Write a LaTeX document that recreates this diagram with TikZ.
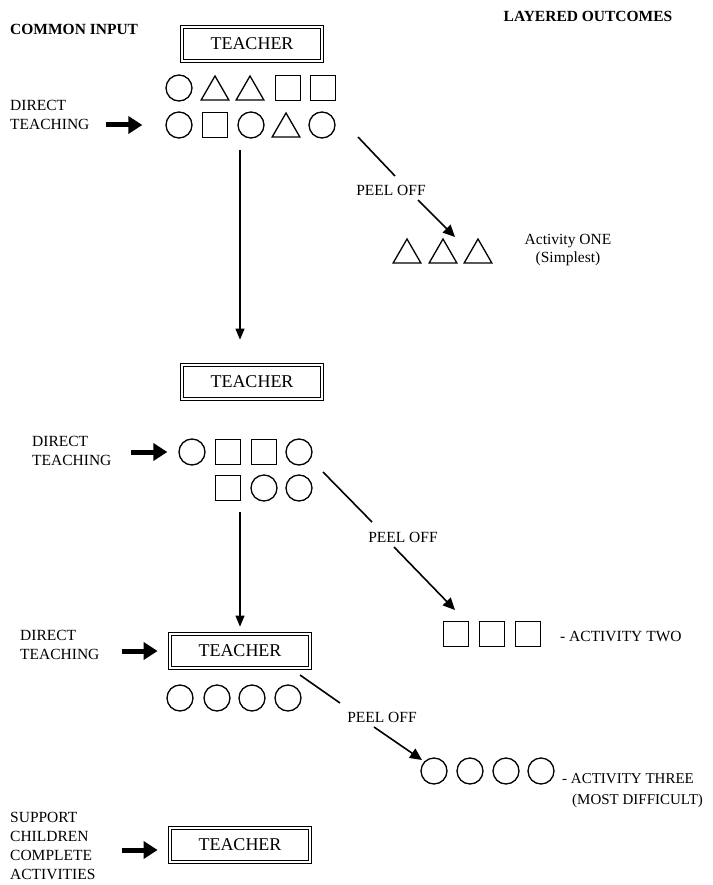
\documentclass[tikz,border=0pt]{standalone}
\usepackage{fontspec}
\setmainfont{Liberation Serif}
\usetikzlibrary{arrows.meta,positioning,shapes.geometric,calc}
\tikzset{
    teacher/.style={
        draw,
        double,
        double distance=2pt,
        line width=0.8pt,
        minimum width=140pt,
        minimum height=34pt,
        inner sep=0pt,
        font=\fontsize{18}{20}\selectfont
    },
    shp/.style={draw, line width=1.3pt, inner sep=0pt},
    circ/.style={shp, circle, minimum size=26pt},
    sq/.style={shp, rectangle, minimum size=25pt},
    tri/.style={shp, regular polygon, regular polygon sides=3, minimum size=32pt, yshift=-4pt},
    lbl/.style={align=left, inner sep=0pt, font=\fontsize{15.5}{18.5}\selectfont},
    heading/.style={inner sep=0pt, font=\bfseries\fontsize{15.5}{18}\selectfont},
    fat/.style={line width=5pt, -{Triangle[length=14pt,width=17pt]}},
    godown/.style={line width=1.2pt, -{Triangle[length=11pt,width=9pt]}},
    peel/.style={line width=1.6pt},
    peelarrow/.style={peel, -{Triangle[length=12pt,width=11pt]}}
}

\begin{document}
\begin{tikzpicture}[x=1pt,y=-1pt]
    \useasboundingbox (0,0) rectangle (712,885);

    \node[heading, anchor=west] (common) at (10,29) {COMMON INPUT};
    \node[heading] (layered) at (588,16) {LAYERED OUTCOMES};

    % whole class
    \node[teacher] (t1) at (252,44) {TEACHER};
    \node[circ] (r1a) at (179,88) {};
    \node[tri]  (r1b) at (215,88) {};
    \node[tri]  (r1c) at (250,88) {};
    \node[sq]   (r1d) at (288,88) {};
    \node[sq]   (r1e) at (323,88) {};
    \node[circ] (r2a) at (179,125) {};
    \node[sq]   (r2b) at (215,125) {};
    \node[circ] (r2c) at (251,125) {};
    \node[tri]  (r2d) at (286,125) {};
    \node[circ] (r2e) at (322,125) {};
    \node[lbl, anchor=west] (dt1) at (10,115) {DIRECT\\TEACHING};
    \draw[fat] ([xshift=-59pt]r2a.west) -- ([xshift=-23pt]r2a.west);

    % activity one
    \coordinate (p1s) at (358,137);
    \coordinate (p1e) at (395,176);
    \coordinate (p1f) at (418,200);
    \coordinate (p1t) at (455,237);
    \node[lbl] (peel1) at (391,190) {PEEL OFF};
    \node[tri] (o1a) at (407,251) {};
    \node[tri] (o1b) at (443,251) {};
    \node[tri] (o1c) at (478,251) {};
    \node[lbl, align=center] (act1) at (568,250) {Activity ONE\\(Simplest)};
    \draw[peel] (p1s) -- (p1e);
    \draw[peelarrow] (p1f) -- (p1t);

    % second group
    \node[teacher] (t2) at (252,382) {TEACHER};
    \coordinate (v1s) at (240,150);
    \draw[godown, shorten >=25pt] (v1s) -- (v1s |- t2.north);
    \node[circ] (s1a) at (192,452) {};
    \node[sq]   (s1b) at (228,452) {};
    \node[sq]   (s1c) at (264,452) {};
    \node[circ] (s1d) at (299,452) {};
    \node[sq]   (s2b) at (228,488) {};
    \node[circ] (s2c) at (264,488) {};
    \node[circ] (s2d) at (299,488) {};
    \node[lbl, anchor=west] (dt2) at (32,451) {DIRECT\\TEACHING};
    \draw[fat] ([xshift=-47pt]s1a.west) -- ([xshift=-11pt]s1a.west);

    % activity two
    \coordinate (p2s) at (323,472);
    \coordinate (p2e) at (372,522);
    \coordinate (p2f) at (394,547);
    \coordinate (p2t) at (455,610);
    \node[lbl] (peel2) at (403,537) {PEEL OFF};
    \node[sq] (o2a) at (456,634) {};
    \node[sq] (o2b) at (492,634) {};
    \node[sq] (o2c) at (528,634) {};
    \node[lbl, anchor=west] (act2) at (560,636) {- ACTIVITY TWO};
    \draw[peel] (p2s) -- (p2e);
    \draw[peelarrow] (p2f) -- (p2t);

    % third group
    \node[teacher] (t3) at (240,651) {TEACHER};
    \coordinate (v2s) at (240,512);
    \draw[godown, shorten >=7pt] (v2s) -- (t3.north);
    \node[circ] (u1a) at (180,698) {};
    \node[circ] (u1b) at (217,698) {};
    \node[circ] (u1c) at (252,698) {};
    \node[circ] (u1d) at (288,698) {};
    \node[lbl, anchor=west] (dt3) at (20,645) {DIRECT\\TEACHING};
    \draw[fat] ([xshift=-48pt]t3.west) -- ([xshift=-12pt]t3.west);

    % activity three
    \coordinate (p3s) at (300,675);
    \coordinate (p3e) at (340,703);
    \coordinate (p3f) at (374,727);
    \coordinate (p3t) at (422,760);
    \node[lbl] (peel3) at (382,717) {PEEL OFF};
    \node[circ] (o3a) at (434,771) {};
    \node[circ] (o3b) at (470,771) {};
    \node[circ] (o3c) at (506,771) {};
    \node[circ] (o3d) at (541,771) {};
    \node[lbl, anchor=north west, font=\fontsize{15}{21}\selectfont] (act3) at (562,773) {- ACTIVITY THREE\\\hspace{10pt}(MOST DIFFICULT)};
    \draw[peel] (p3s) -- (p3e);
    \draw[peelarrow] (p3f) -- (p3t);

    % support
    \node[teacher] (t4) at (240,845) {TEACHER};
    \node[lbl, anchor=west, font=\fontsize{15.5}{19.3}\selectfont] (sup) at (10,846) {SUPPORT\\CHILDREN\\COMPLETE\\ACTIVITIES};
    \draw[fat] ([xshift=-48pt,yshift=-5pt]t4.west) -- ([xshift=-12pt,yshift=-5pt]t4.west);
\end{tikzpicture}
\end{document}
